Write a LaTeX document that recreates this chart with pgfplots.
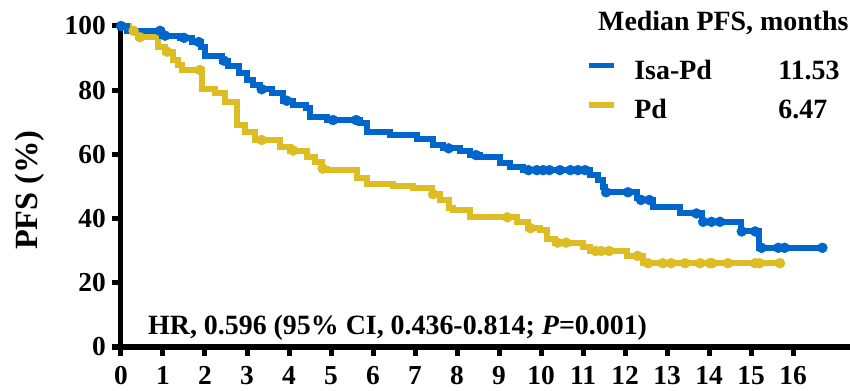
\documentclass[border=0pt]{standalone}
\usepackage{fontspec}
\setmainfont{Liberation Serif}
\usepackage{pgfplots}
\pgfplotsset{compat=1.18}
\definecolor{kmblue}{RGB}{0,102,204}
\definecolor{kmgold}{RGB}{222,188,36}
\pgfplotsset{
  legblue/.style={legend image code/.code={\path (0bp,0bp); \draw[kmblue, line width=5.7bp] (0bp,13.5bp) -- (25bp,13.5bp);}},
  leggold/.style={legend image code/.code={\path (0bp,0bp); \draw[kmgold, line width=5.7bp] (0bp,13.5bp) -- (25bp,13.5bp);}},
}
\begin{document}
\begin{tikzpicture}
\begin{axis}[
  x=42bp, y=3.21bp,
  anchor=origin, at={(0,0)},
  xmin=0, xmax=17.4, ymin=0, ymax=100,
  axis x line=bottom, axis y line=left,
  axis line style={-, line width=5bp, black},
  clip=false,
  xtick={0,1,...,16}, ytick={0,20,...,100},
  tick align=outside, major tick length=9bp,
  tick style={black, line width=5bp},
  tick label style={font=\fontsize{27.5}{27.5}\selectfont\bfseries},
  /pgf/number format/assume math mode=true,
  xticklabel style={anchor=north, inner sep=0pt, yshift=-10bp},
  yticklabel style={anchor=east, inner sep=0pt, xshift=-6bp},
  ylabel={PFS (\%)},
  ylabel style={font=\fontsize{32.5}{32.5}\selectfont\bfseries, at={(axis description cs:-0.1245,0.489)}, anchor=center},
  legend style={draw=none, fill=none, at={(axis cs:11.064,89.5)}, anchor=north west,
    inner sep=0pt, outer sep=0pt, row sep=20bp, column sep=18bp,
    font=\fontsize{28}{28}\selectfont\bfseries,
    cells={anchor=base west},
    nodes={inner sep=0pt, text height=19.3bp, text depth=0pt}},
]
% Pd (gold)
\addplot[kmgold, line width=6bp, const plot, forget plot] coordinates {
(0,100) (0.2,98.5) (0.4,96.5) (0.88,93.5) (1.05,92.0) (1.24,89.4) (1.36,87.9)
(1.45,86.3) (1.93,80.5) (2.24,79.0) (2.48,76.4) (2.76,69.2) (2.95,67.0)
(3.2,64.5) (3.78,62.4) (4.02,61.2) (4.43,59.3) (4.62,57.7) (4.78,55.6)
(4.9,55.1) (5.62,52.5) (5.86,50.9) (6.48,50.0) (6.95,49.4) (7.4,47.6)
(7.6,45.8) (7.8,43.2) (7.9,42.7) (8.3,40.4) (9.43,39.0) (9.7,37.0)
(9.98,36.4) (10.14,33.8) (10.33,32.5) (11.0,31.2) (11.17,29.9) (12.05,28.4)
(12.43,26.1) (15.7,26.1)};
\addplot[kmgold, only marks, mark=*, mark size=5bp, mark options={fill=kmgold, draw=kmgold}, forget plot] coordinates {
(0.3,98.5) (0.45,96.5) (1.1,92.0) (1.88,86.3) (3.35,64.5) (4.1,61.2) (4.8,55.6)
(7.43,47.6) (9.2,40.4) (9.75,37.0) (10.4,32.5) (10.6,32.5) (11.3,29.9)
(11.43,29.9) (11.62,29.9) (12.3,28.4) (12.55,26.1) (12.9,26.1) (13.1,26.1)
(13.43,26.1) (13.79,26.1) (14.02,26.1) (14.07,26.1) (14.45,26.1) (15.1,26.1)
(15.2,26.1) (15.69,26.1)};
% Isa-Pd (blue)
\addplot[kmblue, line width=6bp, const plot, forget plot] coordinates {
(0,100) (0.15,98.5) (0.98,97.0) (1.4,96.3) (1.7,95.0) (1.9,93.5) (2.0,90.7)
(2.4,89.2) (2.55,87.5) (2.8,85.5) (3.0,83.3) (3.15,81.7) (3.3,80.3) (3.6,79.0)
(3.85,76.7) (4.1,75.4) (4.4,74.4) (4.5,71.8) (4.9,70.7) (5.7,69.7) (5.85,67.0)
(6.4,66.0) (7.05,64.7) (7.43,62.9) (7.67,61.9) (8.07,61.2) (8.3,59.8)
(8.55,59.3) (9.02,57.2) (9.26,56.2) (9.57,55.1) (11.17,53.6) (11.36,52.0)
(11.48,49.9) (11.52,48.2) (12.28,46.3) (12.35,45.8) (12.67,43.7) (13.3,41.6)
(13.83,39.0) (14.75,36.0) (15.2,30.9) (16.7,30.9)};
\addplot[kmblue, only marks, mark=*, mark size=5bp, mark options={fill=kmblue, draw=kmblue}, forget plot] coordinates {
(0,100) (0.93,98.5) (1.05,97.0) (1.5,96.3) (1.85,95.0) (2.45,89.2) (3.35,80.3)
(3.95,76.7) (5.05,70.7) (5.6,70.7) (7.8,61.9) (8.45,59.8) (9.7,55.1)
(9.9,55.1) (10.05,55.1) (10.2,55.1) (10.45,55.1) (10.7,55.1) (10.88,55.1)
(11.05,55.1) (11.55,48.2) (12.07,48.2) (12.38,45.8) (12.58,45.8) (13.7,41.6)
(13.86,39.0) (14.06,39.0) (14.26,39.0) (14.78,36.0) (15.1,36.0) (15.25,30.9)
(15.65,30.9) (15.8,30.9) (16.7,30.9)};
\addlegendimage{legblue}
\addlegendentry{\makebox[144bp][l]{Isa-Pd}11.53}
\addlegendimage{leggold}
\addlegendentry{\makebox[144bp][l]{Pd}6.47}
\node[anchor=base west, inner sep=0pt, font=\fontsize{28}{28}\selectfont\bfseries] at (axis cs:11.357,98.54) {Median PFS, months};
\node[anchor=base west, inner sep=0pt, font=\fontsize{28}{28}\selectfont\bfseries] at (axis cs:0.643,3.74) {HR, 0.596 (95\% CI, 0.436-0.814; \textit{P}=0.001)};
\end{axis}
\pgfresetboundingbox
\useasboundingbox (-121bp,-44bp) rectangle (729bp,347bp);
\end{tikzpicture}
\end{document}
